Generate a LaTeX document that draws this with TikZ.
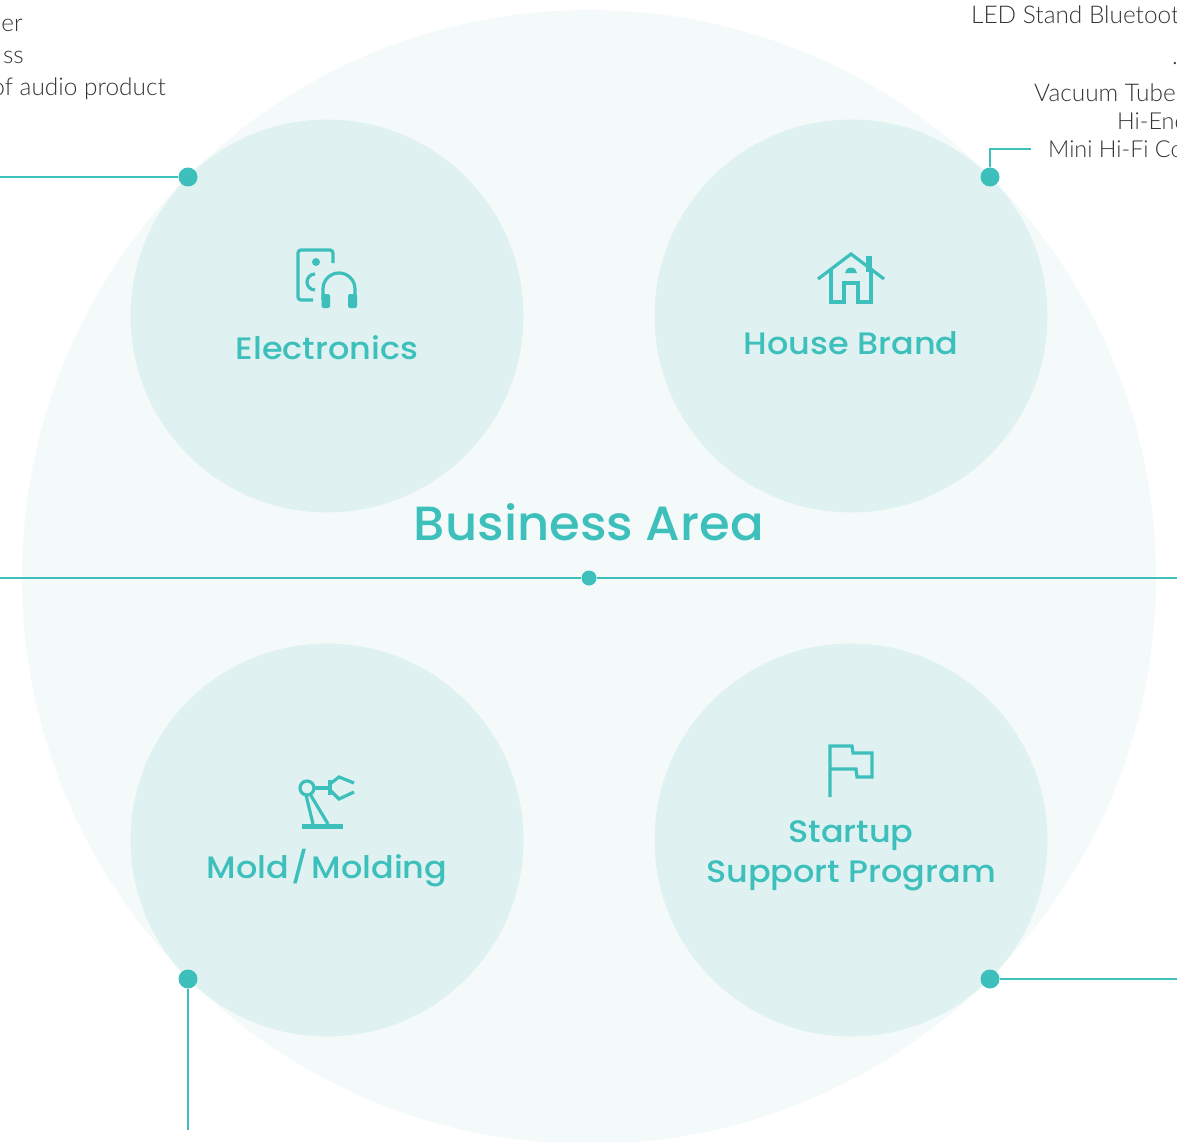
\documentclass[tikz,border=0pt]{standalone}
\usepackage{fontspec}
\setmainfont{Lato}[UprightFont={* Light}]
\newfontfamily\headfont{Poppins}[UprightFont={* Medium},FakeStretch=1.08]
\newfontfamily\titlefont{Poppins}[UprightFont={* Medium},FakeStretch=1.035]
\definecolor{teal}{HTML}{3DBFBC}
\definecolor{bigc}{HTML}{F4FAFA}
\definecolor{smallc}{HTML}{DFF2F1}
\definecolor{bodyc}{HTML}{353535}
\tikzset{
  px/.style={x=1pt,y=-1pt},
  area/.style={circle,fill=smallc,minimum size=393pt,inner sep=0pt},
  dot/.style={circle,fill=teal,minimum size=19pt,inner sep=0pt},
  cdot/.style={circle,fill=teal,minimum size=15pt,inner sep=0pt},
  conn/.style={draw=teal,line width=1.3pt},
  axis/.style={draw=teal,line width=2.7pt},
  icon/.style={draw=teal,line width=3.2pt,line join=miter,fill=none},
  lab/.style={text=teal,font=\headfont\fontsize{31}{40}\selectfont,align=center,inner sep=0pt},
  body/.style={text=bodyc,font=\fontsize{24.4}{28}\selectfont,inner sep=0pt},
  bodytight/.style={text=bodyc,font=\fontsize{23.4}{28}\selectfont,inner sep=0pt},
}
\begin{document}
\begin{tikzpicture}[px]
\useasboundingbox (0,0) rectangle (1177,1142);
\fill[bigc] (589,577) circle[radius=567];
\node[area] (el) at (327,316) {};
\node[area] (ho) at (851,316) {};
\node[area] (mo) at (327,840) {};
\node[area] (st) at (851,840) {};
% connectors
\node[dot] (d1) at (188,177) {};
\node[dot] (d2) at (990,177) {};
\node[dot] (d3) at (188,979) {};
\node[dot] (d4) at (990,979) {};
\node[cdot] (d0) at (589,578) {};
\coordinate (l1) at (0,177);
\coordinate (l2) at (1031,149);
\coordinate (l3) at (188,1130);
\coordinate (l4) at (1177,979);
\coordinate (cl) at (0,578);
\coordinate (cr) at (1177,578);
\draw[conn] (l1) -- (d1);
\draw[conn] (d2) |- (l2);
\draw[conn] (d3) -- (l3);
\draw[conn] (d4) -- (l4);
\draw[axis] (cl) -- (d0);
\draw[axis] (d0) -- (cr);
% labels
\node[lab] (tel) at (327,348) {Electronics};
\node[lab] (tho) at (851,343) {House Brand};
\node[lab] (tmo) at (327,868) {Mold\kern-6pt{} /\kern-6pt{} Molding};
\node[lab] (tst) at (851,856) {Startup\\Support Program};
\node[text=teal,font=\titlefont\fontsize{48}{56}\selectfont,inner sep=0pt] (title) at (589,522.5) {Business Area};
% body text
\node[body,anchor=base east] (a1) at (23,32) {er};
\node[body,anchor=base east] (a2) at (24,64) {ss};
\node[body,anchor=base east] (a3) at (166,96) {of audio product};
\node[body,anchor=base west] (b1) at (971,24) {LED Stand Bluetoot};
\node[body,anchor=base west] (b2) at (1172,65) {.};
\node[body,anchor=base west] (b3) at (1034,102) {Vacuum Tube};
\node[bodytight,anchor=base west] (b4) at (1117,130) {Hi-End};
\node[bodytight,anchor=base west] (b5) at (1048,158) {Mini Hi-Fi Co};
% electronics icon
\draw[icon,rounded corners=3pt] (333,263) -- (333,250) -- (298,250) -- (298,300) -- (313,300);
\fill[teal] (316,262) circle[radius=4];
\draw[icon] (315,274) arc[start angle=270,delta angle=-180,radius=8];
\draw[icon] (323,300) -- (323,289) arc[start angle=180,end angle=360,radius=16] -- (355,300);
\fill[teal,rounded corners=2pt] (321.5,294) -- (330,294) -- (330,308) -- (321.5,308) -- cycle;
\fill[teal,rounded corners=2pt] (348,294) -- (357,294) -- (357,308) -- (348,308) -- cycle;
% house icon
\draw[icon] (818,279) -- (851,254) -- (884,279);
\draw[icon] (831,269) -- (831,302) -- (844,302) -- (844,283) -- (858,283) -- (858,302) -- (871,302) -- (871,268);
\fill[teal] (866,256) rectangle (872,272);
\fill[teal] (845,273) arc[start angle=180,end angle=360,x radius=6,y radius=5.5] -- cycle;
% robot icon
\fill[teal] (302,824) rectangle (343,829);
\draw[icon] (307,788) circle[radius=7];
\draw[icon] (306,795) -- (313,824);
\draw[icon] (310,794) -- (328,824);
\draw[icon] (314,788) -- (330,788);
\draw[icon] (330,780) -- (330,795);
\draw[icon] (330,784) -- (339,777) -- (354,783);
\draw[icon] (330,790) -- (339,799) -- (354,792);
% flag icon
\draw[icon] (830,797) -- (830,746) -- (852,746) -- (853,753) -- (872,753) -- (872,777) -- (857,777) -- (856,769) -- (830,769);
\end{tikzpicture}
\end{document}
